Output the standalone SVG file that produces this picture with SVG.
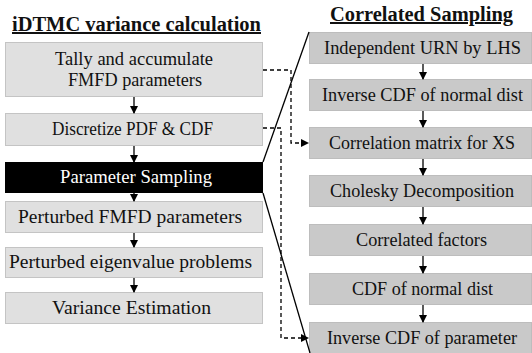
<svg xmlns="http://www.w3.org/2000/svg" width="532" height="353" viewBox="0 0 532 353">
<style>
text{font-family:'Liberation Serif','DejaVu Serif','Times New Roman',serif;font-size:18.5px;fill:#111;text-anchor:middle}
.title{font-weight:bold;font-size:20px;text-decoration:underline}
.lb{fill:#e0e0e0;stroke:#c4c4c4;stroke-width:1}
.rb{fill:#c9c9c9;stroke:#bdbdbd;stroke-width:1}
.blk{fill:#000;stroke:#000}
.arr{stroke:#000;stroke-width:1.3;fill:none;marker-end:url(#ah)}
.dash{stroke:#000;stroke-width:1.3;fill:none;stroke-dasharray:4,3}
.solid{stroke:#000;stroke-width:1.3;fill:none}
</style>
<defs>
<marker id="ah" markerWidth="8" markerHeight="8" refX="7" refY="4" orient="auto" markerUnits="userSpaceOnUse">
<path d="M0,0 L8,4 L0,8 Z" fill="#000"/>
</marker>
</defs>
<rect width="532" height="353" fill="#fff"/>
<text class="title" x="136.5" y="31" textLength="249" lengthAdjust="spacingAndGlyphs">iDTMC variance calculation</text>
<text class="title" x="421.5" y="21" textLength="183" lengthAdjust="spacingAndGlyphs">Correlated Sampling</text>
<g id="n1"><rect class="lb" x="5.5" y="42.5" width="257" height="54"/><text x="134" y="65" textLength="158" lengthAdjust="spacingAndGlyphs">Tally and accumulate</text><text x="135" y="86" textLength="134" lengthAdjust="spacingAndGlyphs">FMFD parameters</text></g>
<g id="n2"><rect class="lb" x="5.5" y="113.5" width="257" height="32"/><text x="132.5" y="135" textLength="161" lengthAdjust="spacingAndGlyphs">Discretize PDF &amp; CDF</text></g>
<g id="n3"><rect class="blk" x="5.5" y="162.5" width="257" height="30"/><text x="136" y="183" style="fill:#fff" textLength="152" lengthAdjust="spacingAndGlyphs">Parameter Sampling</text></g>
<g id="n4"><rect class="lb" x="5.5" y="201.5" width="257" height="31"/><text x="130" y="223" textLength="224" lengthAdjust="spacingAndGlyphs">Perturbed FMFD parameters</text></g>
<g id="n5"><rect class="lb" x="5.5" y="247.5" width="257" height="30"/><text x="130.5" y="268" textLength="243" lengthAdjust="spacingAndGlyphs">Perturbed eigenvalue problems</text></g>
<g id="n6"><rect class="lb" x="5.5" y="292.5" width="257" height="31"/><text x="131.5" y="314" textLength="159" lengthAdjust="spacingAndGlyphs">Variance Estimation</text></g>
<g id="r1"><rect class="rb" x="309.5" y="32.5" width="222" height="31"/><text x="422.5" y="54" textLength="197" lengthAdjust="spacingAndGlyphs">Independent URN by LHS</text></g>
<g id="r2"><rect class="rb" x="309.5" y="79.5" width="222" height="31"/><text x="422.5" y="101" textLength="201" lengthAdjust="spacingAndGlyphs">Inverse CDF of normal dist</text></g>
<g id="r3"><rect class="rb" x="309.5" y="127.5" width="222" height="31"/><text x="422" y="149" textLength="186" lengthAdjust="spacingAndGlyphs">Correlation matrix for XS</text></g>
<g id="r4"><rect class="rb" x="309.5" y="175.5" width="222" height="31"/><text x="422" y="197" textLength="184" lengthAdjust="spacingAndGlyphs">Cholesky Decomposition</text></g>
<g id="r5"><rect class="rb" x="309.5" y="224.5" width="222" height="31"/><text x="421.5" y="246" textLength="131" lengthAdjust="spacingAndGlyphs">Correlated factors</text></g>
<g id="r6"><rect class="rb" x="309.5" y="273.5" width="222" height="31"/><text x="422.5" y="295" textLength="141" lengthAdjust="spacingAndGlyphs">CDF of normal dist</text></g>
<g id="r7"><rect class="rb" x="309.5" y="322.5" width="222" height="33"/><text x="422" y="344" textLength="190" lengthAdjust="spacingAndGlyphs">Inverse CDF of parameter</text></g>
<g id="connectors">
<path class="arr" d="M134,97 V113"/>
<path class="arr" d="M134,146 V162"/>
<path class="arr" d="M134,193 V201"/>
<path class="arr" d="M134,233 V247"/>
<path class="arr" d="M134,278 V292"/>
<path class="arr" d="M423,64 V79"/>
<path class="arr" d="M423,111 V127"/>
<path class="arr" d="M423,159 V175"/>
<path class="arr" d="M423,207 V224"/>
<path class="arr" d="M423,256 V273"/>
<path class="arr" d="M423,305 V322"/>
<path class="dash" d="M263,70 H291 V143 H302"/>
<path d="M301,139 L309,143 L301,147 Z" fill="#000"/>
<path class="dash" d="M263,128 H281 V338 H302"/>
<path d="M301,334 L309,338 L301,342 Z" fill="#000"/>
<path class="solid" d="M263,162 L309,32"/>
<path class="solid" d="M263,193 L310,353"/>
</g>
</svg>
